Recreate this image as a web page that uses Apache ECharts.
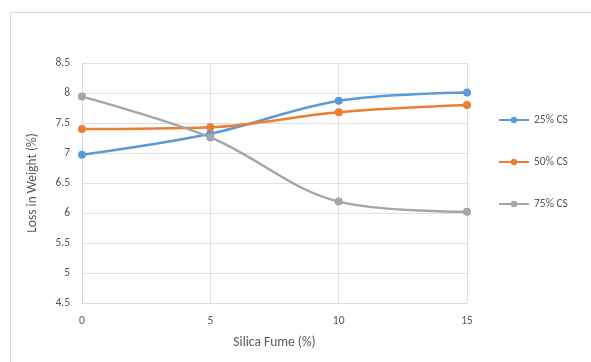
<!DOCTYPE html>
<html><head><meta charset="utf-8">
<script src="https://cdn.jsdelivr.net/npm/echarts@6/dist/echarts.min.js"></script>
<style>html,body{margin:0;padding:0;background:#fff}#c{width:591px;height:362px}</style>
</head><body><div id="c"></div>
<script>
const silicaFume = [0, 5, 10, 15];
const cs25 = [6.97, 7.32, 7.87, 8.01];
const cs50 = [7.40, 7.43, 7.68, 7.80];
const cs75 = [7.94, 7.26, 6.19, 6.02];
const seriesNames = ['25% CS', '50% CS', '75% CS'];
const colors = ['#5b9bd5', '#ed7d31', '#a5a5a5'];
const font = 'Calibri, "Liberation Sans", "Open Sans", sans-serif';

function pairs(vals){ return silicaFume.map((x,i)=>[x, vals[i]]); }
const allVals = [cs25, cs50, cs75];

const chart = echarts.init(document.getElementById('c'), null, {renderer:'canvas'});
chart.setOption({
  animation:false,
  backgroundColor:'#fff',
  graphic:[{type:'rect', left:8, top:10, shape:{width:600, height:400}, style:{fill:'none', stroke:'#d9d9d9', lineWidth:1}, z:-1}],
  grid:{left:82, top:63, width:385, height:240},
  legend:{
    orient:'vertical', left:493, top:109, itemGap:30, itemWidth:30, itemHeight:8,
    data:seriesNames,
    textStyle:{color:'#595959', fontSize:11.5, fontFamily:font}
  },
  xAxis:{
    type:'value', min:0, max:15, interval:5,
    name:'Silica Fume (%)', nameLocation:'middle', nameGap:33,
    nameTextStyle:{color:'#595959', fontSize:13.5, fontFamily:font},
    axisLine:{show:true, lineStyle:{color:'#d9d9d9'}},
    axisTick:{show:false},
    axisLabel:{color:'#595959', fontSize:11.5, fontFamily:font, margin:12},
    splitLine:{show:true, lineStyle:{color:'#e0e0e0'}}
  },
  yAxis:{
    type:'value', min:4.5, max:8.5, interval:0.5,
    name:'Loss in Weight (%)', nameLocation:'middle', nameGap:42,
    nameTextStyle:{color:'#595959', fontSize:13.5, fontFamily:font},
    axisLine:{show:true, lineStyle:{color:'#d9d9d9'}},
    axisTick:{show:false},
    axisLabel:{color:'#595959', fontSize:11.5, fontFamily:font, margin:12},
    splitLine:{show:true, lineStyle:{color:'#e0e0e0'}}
  },
  series: seriesNames.map((n,i)=>({
    name:n, type:'line', smooth:0.35,
    data:pairs(allVals[i]),
    symbol:'circle', symbolSize:8,
    lineStyle:{width:2.5, color:colors[i]},
    itemStyle:{color:colors[i]}
  }))
});
</script></body></html>
